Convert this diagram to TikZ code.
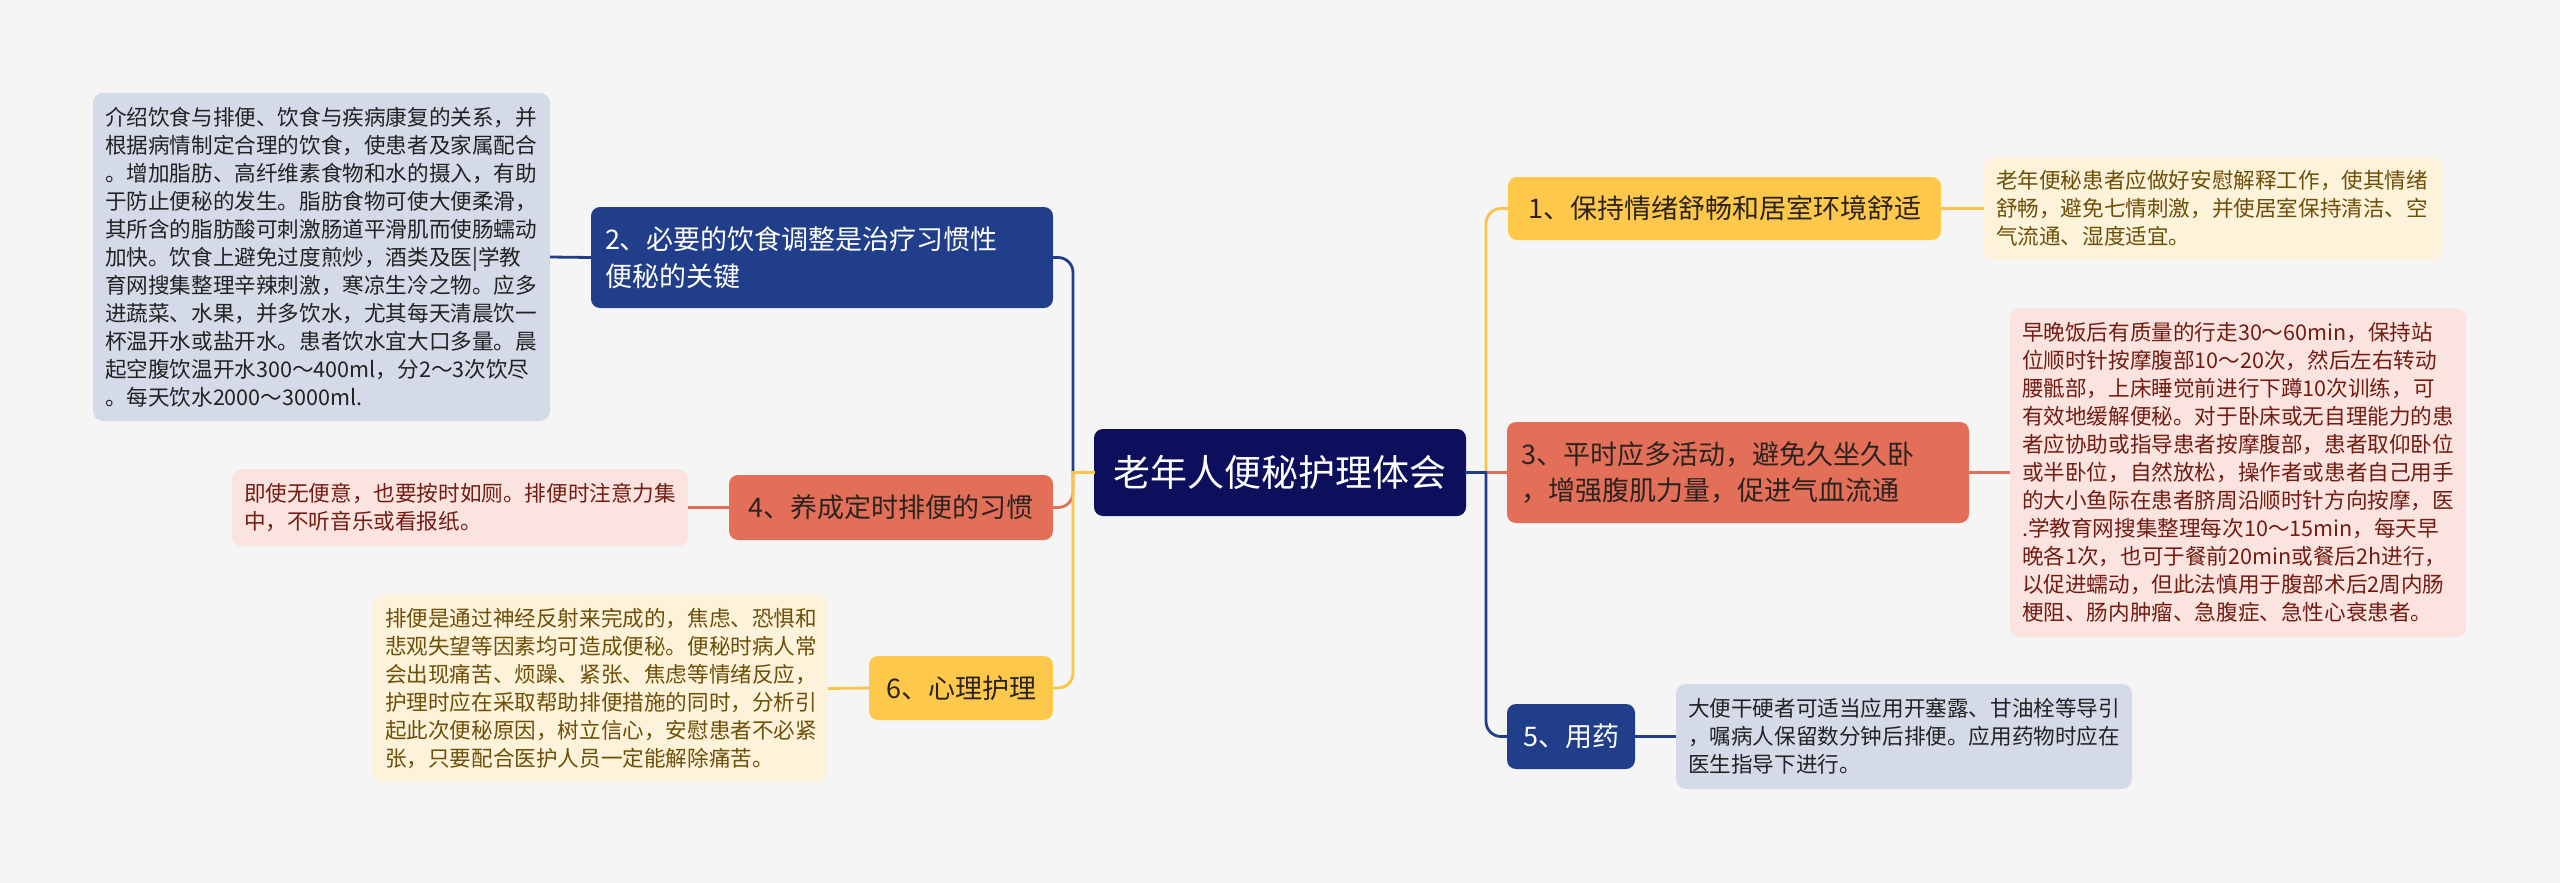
\documentclass[tikz,border=0pt]{standalone}
\usepackage{fontspec}
\newfontfamily\cjk{Noto Sans CJK SC}
\usetikzlibrary{calc}
\definecolor{bg}{HTML}{F5F5F5}
\definecolor{rootc}{HTML}{0B0F5C}
\definecolor{navy}{HTML}{213E8A}
\definecolor{navyleaf}{HTML}{D5DAE9}
\definecolor{sal}{HTML}{E46F59}
\definecolor{salleaf}{HTML}{FBE3DF}
\definecolor{yel}{HTML}{FEC94B}
\definecolor{yelleaf}{HTML}{FDF3DA}
\definecolor{yelline}{HTML}{F8C546}
\definecolor{saltext}{HTML}{721D13}
\definecolor{yeltext}{HTML}{6E4F08}
\definecolor{darktext}{HTML}{222222}
\definecolor{branchdark}{HTML}{2B2320}
\tikzset{
  rootbox/.style={fill=rootc, text=white, rounded corners=9pt, inner sep=0pt,
    font=\cjk\fontsize{37}{44}\selectfont},
  branchbox/.style={rounded corners=9pt, inner sep=0pt, align=left,
    font=\cjk\fontsize{27}{36.7}\selectfont},
  leafbox/.style={rounded corners=10pt, inner xsep=12pt, inner ysep=0pt, align=left,
    font=\cjk\fontsize{21.6}{28}\selectfont},
  conn/.style={line width=2.8pt},
  treeline/.style={line width=2.8pt, rounded corners=15pt},
}
\begin{document}
\begin{tikzpicture}[x=1pt,y=-1pt]
\fill[bg] (0,0) rectangle (2560,883);
\useasboundingbox (0,0) rectangle (2560,883);

% root
\node[rootbox, minimum width=372, minimum height=87] (root) at (1280,472.5) {老年人便秘护理体会};

% left branches
\node[branchbox, fill=navy, text=white, minimum width=462, minimum height=101, text width=434] (n2) at (822,257.5) {2、必要的饮食调整是治疗习惯性\\便秘的关键};
\node[branchbox, fill=sal, text=branchdark, minimum width=324, minimum height=65] (n4) at (891,507.5) {4、养成定时排便的习惯};
\node[branchbox, fill=yel, text=branchdark, minimum width=184, minimum height=64] (n6) at (961,688) {6、心理护理};

% right branches
\node[branchbox, fill=yel, text=branchdark, minimum width=433, minimum height=63] (n1) at (1724.5,208.5) {1、保持情绪舒畅和居室环境舒适};
\node[branchbox, fill=sal, text=branchdark, minimum width=462, minimum height=101, text width=434] (n3) at (1738,472.5) {3、平时应多活动，避免久坐久卧\\，增强腹肌力量，促进气血流通};
\node[branchbox, fill=navy, text=white, minimum width=128, minimum height=65] (n5) at (1571,736.5) {5、用药};

% leaves
\node[leafbox, fill=navyleaf, text=darktext, minimum width=457, minimum height=328, text width=433] (l2) at (321.5,257) {介绍饮食与排便、饮食与疾病康复的关系，并\\根据病情制定合理的饮食，使患者及家属配合\\。增加脂肪、高纤维素食物和水的摄入，有助\\于防止便秘的发生。脂肪食物可使大便柔滑，\\其所含的脂肪酸可刺激肠道平滑肌而使肠蠕动\\加快。饮食上避免过度煎炒，酒类及医|学教\\育网搜集整理辛辣刺激，寒凉生冷之物。应多\\进蔬菜、水果，并多饮水，尤其每天清晨饮一\\杯温开水或盐开水。患者饮水宜大口多量。晨\\起空腹饮温开水300～400ml，分2～3次饮尽\\。每天饮水2000～3000ml.};
\node[leafbox, fill=salleaf, text=saltext, minimum width=456, minimum height=77, text width=432] (l4) at (460,507.5) {即使无便意，也要按时如厕。排便时注意力集\\中，不听音乐或看报纸。};
\node[leafbox, fill=yelleaf, text=yeltext, minimum width=455, minimum height=187, text width=431] (l6) at (600.5,688.5) {排便是通过神经反射来完成的，焦虑、恐惧和\\悲观失望等因素均可造成便秘。便秘时病人常\\会出现痛苦、烦躁、紧张、焦虑等情绪反应，\\护理时应在采取帮助排便措施的同时，分析引\\起此次便秘原因，树立信心，安慰患者不必紧\\张，只要配合医护人员一定能解除痛苦。};
\node[leafbox, fill=yelleaf, text=yeltext, minimum width=458, minimum height=103, text width=434] (l1) at (2213,208.5) {老年便秘患者应做好安慰解释工作，使其情绪\\舒畅，避免七情刺激，并使居室保持清洁、空\\气流通、湿度适宜。};
\node[leafbox, fill=salleaf, text=saltext, minimum width=456, minimum height=329, text width=432] (l3) at (2238,472.5) {早晚饭后有质量的行走30～60min，保持站\\位顺时针按摩腹部10～20次，然后左右转动\\腰骶部，上床睡觉前进行下蹲10次训练，可\\有效地缓解便秘。对于卧床或无自理能力的患\\者应协助或指导患者按摩腹部，患者取仰卧位\\或半卧位，自然放松，操作者或患者自己用手\\的大小鱼际在患者脐周沿顺时针方向按摩，医\\.学教育网搜集整理每次10～15min，每天早\\晚各1次，也可于餐前20min或餐后2h进行，\\以促进蠕动，但此法慎用于腹部术后2周内肠\\梗阻、肠内肿瘤、急腹症、急性心衰患者。};
\node[leafbox, fill=navyleaf, text=darktext, minimum width=456, minimum height=105, text width=432] (l5) at (1904,736.5) {大便干硬者可适当应用开塞露、甘油栓等导引\\，嘱病人保留数分钟后排便。应用药物时应在\\医生指导下进行。};

% trunk coordinates
\coordinate (tl) at (1073,472.5);
\coordinate (tr) at (1486,472.5);

% left connectors
\draw[treeline, navy] (tl) -- (tl |- n2.east) -- (n2.east);
\draw[conn, navy, line cap=rect] (root.west) -- (tl);
\draw[treeline, sal] (tl) -- (tl |- n4.east) -- (n4.east);
\draw[treeline, yelline] (tl) -- (tl |- n6.east) -- (n6.east);
\draw[conn, yelline, line cap=rect] (root.west) -- (tl);

% right connectors
\draw[treeline, yelline] (tr) -- (tr |- n1.west) -- (n1.west);
\draw[conn, sal] (root.east) -- (n3.west);
\draw[treeline, navy] (tr) -- (tr |- n5.west) -- (n5.west);
\draw[conn, navy, line cap=rect] (root.east) -- (tr);

% leaf connectors
\draw[conn, navy] (n2.west) -- (l2.east);
\draw[conn, sal] (n4.west) -- (l4.east);
\draw[conn, yelline] (n6.west) -- (l6.east);
\draw[conn, yelline] (n1.east) -- (l1.west);
\draw[conn, sal] (n3.east) -- (l3.west);
\draw[conn, navy] (n5.east) -- (l5.west);
\end{tikzpicture}
\end{document}
